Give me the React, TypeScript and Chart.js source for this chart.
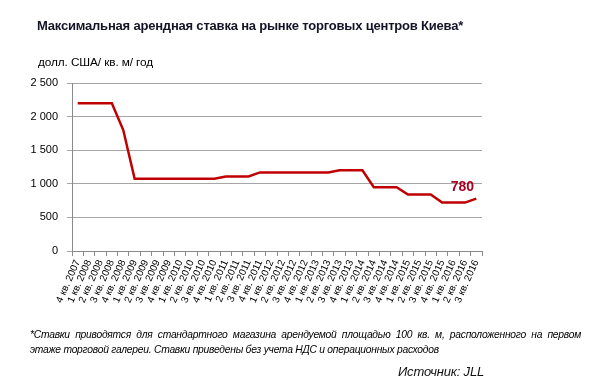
import React, { useEffect, useRef } from "react";
import { Chart, registerables } from "chart.js";

Chart.register(...registerables);

const quarters: string[] = [
  "4 кв. 2007",
  "1 кв. 2008", "2 кв. 2008", "3 кв. 2008", "4 кв. 2008",
  "1 кв. 2009", "2 кв. 2009", "3 кв. 2009", "4 кв. 2009",
  "1 кв. 2010", "2 кв. 2010", "3 кв. 2010", "4 кв. 2010",
  "1 кв. 2011", "2 кв. 2011", "3 кв. 2011", "4 кв. 2011",
  "1 кв. 2012", "2 кв. 2012", "3 кв. 2012", "4 кв. 2012",
  "1 кв. 2013", "2 кв. 2013", "3 кв. 2013", "4 кв. 2013",
  "1 кв. 2014", "2 кв. 2014", "3 кв. 2014", "4 кв. 2014",
  "1 кв. 2015", "2 кв. 2015", "3 кв. 2015", "4 кв. 2015",
  "1 кв. 2016", "2 кв. 2016", "3 кв. 2016",
];

const maxRent: number[] = [
  2200,
  2200, 2200, 2200, 1800,
  1075, 1075, 1075, 1075,
  1075, 1075, 1075, 1075,
  1110, 1110, 1110, 1170,
  1170, 1170, 1170, 1170,
  1170, 1170, 1200, 1200,
  1200, 950, 950, 950,
  840, 840, 840, 720,
  720, 720, 780,
];

const yTicks: number[] = [0, 500, 1000, 1500, 2000, 2500];

const titleText = "Максимальная арендная ставка на рынке торговых центров Киева*";
const unitText = "долл. США/ кв. м/ год";
const footnoteText =
  "*Ставки приводятся для стандартного магазина арендуемой площадью 100 кв. м, расположенного на первом этаже торговой галереи. Ставки приведены без учета НДС и операционных расходов";
const sourceText = "Источник: JLL";
const lastLabel = "780";

const FONT = "'Liberation Sans', Arial, sans-serif";

export default function App() {
  const ref = useRef<HTMLCanvasElement | null>(null);

  useEffect(() => {
    if (!ref.current) return;
    const lastLabelPlugin = {
      id: "lastLabel",
      afterDatasetsDraw(chart: any) {
        const { ctx, scales } = chart;
        const i = maxRent.length - 1;
        const x = scales.x.getPixelForValue(i);
        const y = scales.y.getPixelForValue(maxRent[i]);
        ctx.save();
        ctx.font = `bold 14px ${FONT}`;
        ctx.fillStyle = "#A50021";
        ctx.textAlign = "center";
        ctx.textBaseline = "middle";
        ctx.fillText(lastLabel, x - 14, y - 11);
        ctx.restore();
      },
    };

    const chart = new Chart(ref.current, {
      type: "line",
      data: {
        labels: quarters,
        datasets: [
          {
            data: maxRent,
            borderColor: "#C00000",
            borderWidth: 2.5,
            pointRadius: 0,
            tension: 0,
            fill: false,
          },
        ],
      },
      options: {
        responsive: false,
        animation: false,
        layout: { padding: { left: 0, top: 83, right: 118, bottom: 58 } },
        plugins: { legend: { display: false }, tooltip: { enabled: false }, title: { display: false } },
        scales: {
          x: {
            type: "category",
            offset: true,
            afterFit: (s: any) => {
              s.height = 80;
            },
            grid: {
              display: true,
              drawOnChartArea: false,
              drawTicks: true,
              tickLength: 5,
              color: "#898989",
              offset: true,
            },
            border: { display: true, color: "#898989" },
            ticks: {
              autoSkip: false,
              minRotation: 66,
              maxRotation: 66,
              padding: 2,
              color: "#000",
              font: { family: FONT, size: 10 },
            },
          },
          y: {
            min: 0,
            max: 2500,
            afterFit: (s: any) => {
              s.width = 72;
            },
            afterBuildTicks: (s: any) => {
              s.ticks = yTicks.map((v) => ({ value: v }));
            },
            grid: { color: "#A6A6A6", tickLength: 5, lineWidth: 1 },
            border: { display: true, color: "#898989" },
            ticks: {
              padding: 9,
              color: "#000",
              font: { family: FONT, size: 11 },
              callback: (v: any) => {
                const n = Number(v);
                return n >= 1000 ? `${Math.floor(n / 1000)} ${String(n % 1000).padStart(3, "0")}` : String(n);
              },
            },
          },
        },
      },
      plugins: [lastLabelPlugin],
    } as any);
    return () => chart.destroy();
  }, []);

  return (
    <div style={{ position: "absolute", left: 0, top: 0, width: 600, height: 389, background: "#fff", fontFamily: FONT }}>
      <canvas ref={ref} width={600} height={389} style={{ position: "absolute", left: 0, top: 0, width: 600, height: 389 }} />
      <div
        style={{
          position: "absolute",
          left: 37,
          top: 18,
          fontSize: 13,
          letterSpacing: -0.2,
          fontWeight: "bold",
          color: "#141428",
          whiteSpace: "nowrap",
        }}
      >
        {titleText}
      </div>
      <div style={{ position: "absolute", left: 38, top: 55, fontSize: 11.8, letterSpacing: -0.1, color: "#000", whiteSpace: "nowrap" }}>
        {unitText}
      </div>
      <div
        style={{
          position: "absolute",
          left: 30,
          top: 327,
          width: 551,
          fontSize: 10.3,
          letterSpacing: -0.25,
          lineHeight: "15px",
          fontStyle: "italic",
          textAlign: "justify",
          color: "#000",
        }}
      >
        {footnoteText}
      </div>
      <div style={{ position: "absolute", left: 398, top: 364, fontSize: 13, letterSpacing: -0.2, fontStyle: "italic", color: "#111", whiteSpace: "nowrap" }}>
        {sourceText}
      </div>
    </div>
  );
}
